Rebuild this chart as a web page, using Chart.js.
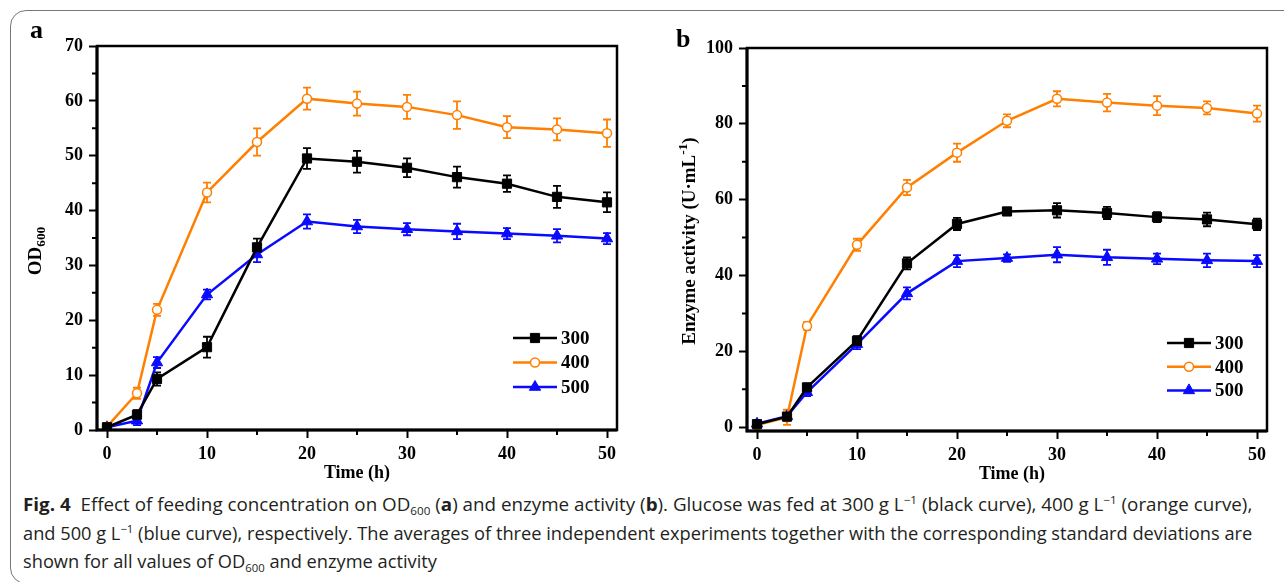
<!DOCTYPE html>
<html>
<head>
<meta charset="utf-8">
<script src="https://cdn.jsdelivr.net/npm/chart.js@4.4.0/dist/chart.umd.min.js"></script>
<style>
  body { margin: 0; background: #fff; width: 1284px; height: 582px; overflow: hidden; position: relative; }
  #frame { position: absolute; left: 10px; top: 10px; width: 1300px; height: 574px; border: 1.5px solid #777; border-radius: 16px; box-sizing: border-box; }
  canvas { position: absolute; top: 0; }
  .lbl { position: absolute; font-family: "Liberation Serif", serif; font-weight: bold; color: #000; white-space: nowrap; line-height: 1; }
  .center { transform: translate(-50%, -50%); }
  .ytitle { transform: translate(-50%, -50%) rotate(-90deg); }
  .lbl sub { font-size: 0.7em; vertical-align: -0.3em; }
  .lbl sup { font-size: 0.7em; vertical-align: 0.55em; }
  .cap { position: absolute; left: 23px; font-family: "Open Sans", "Noto Sans", sans-serif; font-size: 18px; color: #231f20; white-space: nowrap; line-height: 1; transform-origin: 0 50%; }
  .cap sub { font-size: 0.62em; vertical-align: -0.35em; }
  .cap sup { font-size: 0.62em; vertical-align: 0.6em; }
</style>
</head>
<body>
<div id="frame"></div>
<canvas id="chartA" width="642" height="490" style="left:0"></canvas>
<canvas id="chartB" width="642" height="490" style="left:642px"></canvas>

<div class="lbl" style="left:30px;top:17px;font-size:26px">a</div>
<div class="lbl" style="left:676px;top:26px;font-size:26px">b</div>
<div class="lbl ytitle" style="left:36px;top:251px;font-size:19px">OD<sub>600</sub></div>
<div class="lbl ytitle" style="left:687px;top:241px;font-size:19px">Enzyme activity (U·mL<sup>-1</sup>)</div>
<div class="lbl center" style="left:357px;top:472px;font-size:18px">Time (h)</div>
<div class="lbl center" style="left:1012px;top:473px;font-size:18px">Time (h)</div>

<div class="cap" id="cap1" style="top:494px"><b>Fig. 4</b>&nbsp; Effect of feeding concentration on OD<sub>600</sub> (<b>a</b>) and enzyme activity (<b>b</b>). Glucose was fed at 300 g L<sup>−1</sup> (black curve), 400 g L<sup>−1</sup> (orange curve),</div>
<div class="cap" id="cap2" style="top:523px">and 500 g L<sup>−1</sup> (blue curve), respectively. The averages of three independent experiments together with the corresponding standard deviations are</div>
<div class="cap" id="cap3" style="top:552px">shown for all values of OD<sub>600</sub> and enzyme activity</div>

<script>
// sampling times (h)
const hours = [0, 3, 5, 10, 15, 20, 25, 30, 35, 40, 45, 50];
const seriesNames = ['300', '400', '500'];

// panel a: OD600
const od300 = [0.5, 2.8, 9.3, 15.1, 33.3, 49.5, 48.9, 47.8, 46.1, 44.9, 42.5, 41.5];
const od300Err = [0.4, 0.8, 1.2, 1.9, 1.6, 1.9, 2.0, 1.7, 1.9, 1.5, 2.0, 1.8];
const od400 = [0.6, 6.7, 21.9, 43.3, 52.5, 60.4, 59.5, 58.9, 57.4, 55.2, 54.8, 54.1];
const od400Err = [0.3, 1.0, 1.1, 1.8, 2.5, 2.0, 2.2, 2.2, 2.5, 2.0, 2.0, 2.5];
const od500 = [0.5, 1.7, 12.3, 24.7, 32.0, 38.0, 37.1, 36.6, 36.2, 35.8, 35.4, 34.9];
const od500Err = [0.3, 0.8, 1.0, 0.9, 1.4, 1.3, 1.2, 1.1, 1.4, 1.0, 1.2, 1.0];

// panel b: enzyme activity (U/mL)
const ea300 = [0.8, 2.8, 10.5, 22.8, 43.2, 53.6, 56.9, 57.2, 56.5, 55.4, 54.8, 53.5];
const ea300Err = [0.5, 1.0, 1.0, 1.2, 1.6, 1.6, 0.9, 1.9, 1.6, 1.3, 1.8, 1.5];
const ea400 = [0.6, 2.6, 26.7, 48.1, 63.2, 72.4, 80.8, 86.6, 85.6, 84.8, 84.2, 82.7];
const ea400Err = [0.5, 2.0, 1.0, 1.6, 2.0, 2.4, 1.7, 2.0, 2.3, 2.5, 1.7, 2.1];
const ea500 = [0.9, 2.9, 9.2, 21.9, 35.3, 43.8, 44.6, 45.5, 44.8, 44.4, 44.0, 43.8];
const ea500Err = [0.5, 0.8, 1.0, 1.3, 1.6, 1.6, 1.0, 2.0, 2.0, 1.4, 1.8, 1.6];

// tick values
const xTicks = [0, 10, 20, 30, 40, 50];
const xMinor = [5, 15, 25, 35, 45];
const odTicks = [0, 10, 20, 30, 40, 50, 60, 70];
const odMinor = [5, 15, 25, 35, 45, 55, 65];
const eaTicks = [0, 20, 40, 60, 80, 100];
const eaMinor = [10, 30, 50, 70, 90];

const BLACK = '#000000', ORANGE = '#ff7f00', BLUE = '#0a0aff';
const tickFont = { family: 'Liberation Serif', weight: 'bold', size: 18 };

function makeSet(label, values, errs, color, style) {
  return {
    label: label,
    data: hours.map((h, i) => ({ x: h, y: values[i] })),
    errs: errs,
    borderColor: color,
    borderWidth: 2.5,
    backgroundColor: style === 'circle' ? '#ffffff' : color,
    pointStyle: style,
    pointRadius: style === 'circle' ? 4.5 : 6.5,
    pointBorderColor: color,
    pointBorderWidth: style === 'circle' ? 1.5 : 1,
    pointBackgroundColor: style === 'circle' ? '#ffffff' : color,
    tension: 0,
    fill: false
  };
}

// same shapes as chart.js point styles, for the legend
function drawMarker(ctx, style, r, x, y) {
  if (style === 'rect') {
    const s = r * Math.SQRT1_2;
    ctx.rect(x - s, y - s, 2 * s, 2 * s);
  } else if (style === 'triangle') {
    ctx.moveTo(x, y - r);
    ctx.lineTo(x + r * Math.sin(Math.PI * 2 / 3), y - r * Math.cos(Math.PI * 2 / 3));
    ctx.lineTo(x + r * Math.sin(Math.PI * 4 / 3), y - r * Math.cos(Math.PI * 4 / 3));
    ctx.closePath();
  } else {
    ctx.arc(x, y, r, 0, Math.PI * 2);
  }
}

const decoPlugin = {
  id: 'deco',
  // error bars go under the markers
  beforeDatasetsDraw(chart) {
    const ctx = chart.ctx, xs = chart.scales.x, ys = chart.scales.y;
    ctx.save();
    chart.data.datasets.forEach(ds => {
      ctx.strokeStyle = ds.borderColor;
      ctx.lineWidth = 1.8;
      ds.data.forEach((p, i) => {
        const e = ds.errs[i];
        const px = xs.getPixelForValue(p.x);
        const y1 = ys.getPixelForValue(p.y + e), y2 = ys.getPixelForValue(p.y - e);
        ctx.beginPath();
        ctx.moveTo(px, y1); ctx.lineTo(px, y2);
        ctx.moveTo(px - 4, y1); ctx.lineTo(px + 4, y1);
        ctx.moveTo(px - 4, y2); ctx.lineTo(px + 4, y2);
        ctx.stroke();
      });
    });
    ctx.restore();
  },
  afterDraw(chart, args, opts) {
    const ctx = chart.ctx, a = chart.chartArea, xs = chart.scales.x, ys = chart.scales.y;
    ctx.save();
    // box around the plot
    ctx.strokeStyle = '#000';
    ctx.lineWidth = 2.5;
    ctx.strokeRect(a.left, a.top, a.right - a.left, a.bottom - a.top);
    ctx.lineWidth = 3;
    ctx.beginPath();
    ctx.moveTo(a.left, a.top); ctx.lineTo(a.left, a.bottom); ctx.lineTo(a.right, a.bottom);
    ctx.stroke();
    // minor ticks
    ctx.lineWidth = 2;
    ctx.beginPath();
    opts.xMinor.forEach(v => { const px = xs.getPixelForValue(v); ctx.moveTo(px, a.bottom); ctx.lineTo(px, a.bottom + 5); });
    opts.yMinor.forEach(v => { const py = ys.getPixelForValue(v); ctx.moveTo(a.left, py); ctx.lineTo(a.left - 5, py); });
    ctx.stroke();
    // legend: line + marker + label
    const x0 = a.right + opts.legendDx, len = opts.legendLen;
    chart.data.datasets.forEach((ds, i) => {
      const y = a.top + opts.legendDy + i * opts.legendStep;
      ctx.strokeStyle = ds.borderColor;
      ctx.lineWidth = 2.5;
      ctx.beginPath(); ctx.moveTo(x0, y); ctx.lineTo(x0 + len, y); ctx.stroke();
      ctx.fillStyle = ds.pointBackgroundColor;
      ctx.strokeStyle = ds.pointBorderColor;
      ctx.lineWidth = ds.pointBorderWidth;
      ctx.beginPath();
      drawMarker(ctx, ds.pointStyle, ds.pointRadius, x0 + len / 2, y);
      ctx.fill(); ctx.stroke();
      ctx.fillStyle = '#000';
      ctx.font = 'bold 19px "Liberation Serif"';
      ctx.textBaseline = 'middle';
      ctx.textAlign = 'left';
      ctx.fillText(ds.label, x0 + len + 4, y + 1);
    });
    ctx.restore();
  }
};

function makeChart(id, sets, yMin, yMax, yTicks, yMinor, layout) {
  return new Chart(document.getElementById(id), {
    type: 'line',
    data: { datasets: sets },
    options: {
      responsive: false,
      animation: false,
      events: [],
      layout: { padding: { left: 0, top: layout.top, right: layout.right, bottom: 0 } },
      plugins: {
        legend: { display: false },
        tooltip: { enabled: false },
        deco: { xMinor: xMinor, yMinor: yMinor, legendDx: layout.legendDx, legendDy: layout.legendDy, legendLen: 44, legendStep: layout.legendStep }
      },
      scales: {
        x: {
          type: 'linear', min: -1, max: 51,
          afterBuildTicks: s => { s.ticks = xTicks.map(v => ({ value: v })); },
          afterFit: s => { s.height = layout.xHeight; },
          grid: { drawOnChartArea: false, drawTicks: true, tickLength: 8, tickWidth: 2, tickColor: '#000' },
          border: { display: false },
          ticks: { font: tickFont, color: '#000', padding: 6, maxRotation: 0, autoSkip: false }
        },
        y: {
          type: 'linear', min: yMin, max: yMax,
          afterBuildTicks: s => { s.ticks = yTicks.map(v => ({ value: v })); },
          afterFit: s => { s.width = layout.yWidth; },
          grid: { drawOnChartArea: false, drawTicks: true, tickLength: 8, tickWidth: 2, tickColor: '#000' },
          border: { display: false },
          ticks: { font: tickFont, color: '#000', padding: 6, autoSkip: false }
        }
      }
    },
    plugins: [decoPlugin]
  });
}

makeChart('chartA', [
  makeSet(seriesNames[0], od300, od300Err, BLACK, 'rect'),
  makeSet(seriesNames[1], od400, od400Err, ORANGE, 'circle'),
  makeSet(seriesNames[2], od500, od500Err, BLUE, 'triangle')
], 0, 70, odTicks, odMinor,
  { top: 46, right: 25, xHeight: 60, yWidth: 97, legendDx: -104, legendDy: 292, legendStep: 24.5 });

makeChart('chartB', [
  makeSet(seriesNames[0], ea300, ea300Err, BLACK, 'rect'),
  makeSet(seriesNames[1], ea400, ea400Err, ORANGE, 'circle'),
  makeSet(seriesNames[2], ea500, ea500Err, BLUE, 'triangle')
], -1, 100, eaTicks, eaMinor,
  { top: 48, right: 17, xHeight: 59, yWidth: 105, legendDx: -100, legendDy: 295, legendStep: 23.7 });

// squeeze the caption lines to the width of the text block
const k = 1229 / document.getElementById('cap2').scrollWidth;
['cap1', 'cap2', 'cap3'].forEach(id => {
  const el = document.getElementById(id);
  const kk = id === 'cap1' ? 1229 / el.scrollWidth : k;
  el.style.transform = 'scaleX(' + kk + ')';
});
</script>
</body>
</html>
